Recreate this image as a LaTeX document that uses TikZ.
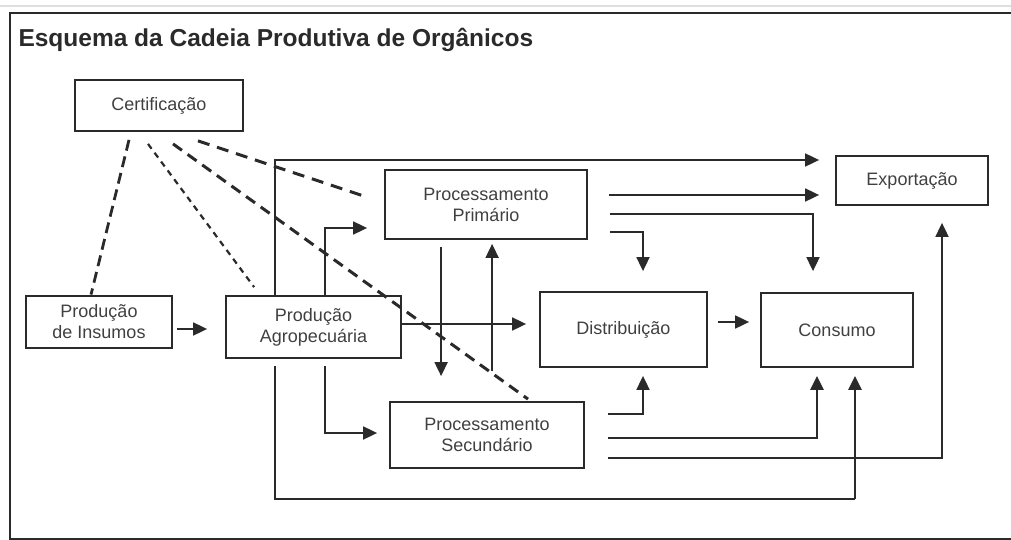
\documentclass[tikz,border=0pt]{standalone}
\usepackage{fontspec}
\setmainfont{Liberation Sans}
\usetikzlibrary{arrows.meta,calc}
\definecolor{ink}{HTML}{2A2A2A}
\definecolor{txt}{HTML}{404040}
\begin{document}
\begin{tikzpicture}[x=1pt,y=-1pt,
  box/.style={draw=ink,line width=1.8pt,rectangle,inner sep=0pt,align=center,text=txt,
    font=\fontsize{18}{21}\selectfont},
  conn/.style={draw=ink,line width=1.8pt},
  arr/.style={conn,-{Triangle[length=14pt,width=13pt]}},
  arrthick/.style={arr,line width=2.8pt},
  dashA/.style={draw=ink,line width=2.8pt,dash pattern=on 11pt off 6pt},
  dashB/.style={draw=ink,line width=2.2pt,dash pattern=on 6pt off 5pt},
  dashC/.style={draw=ink,line width=3pt,dash pattern=on 11pt off 7pt},
  dashD/.style={draw=ink,line width=3pt,dash pattern=on 12pt off 8pt}]
\useasboundingbox (0,0) rectangle (1011,540);
% frame
\draw[gray!25,line width=2pt] (0,6) -- (1011,6);
\draw[ink,line width=2.2pt] (1011,13) -- (10,13) -- (10,539) -- (1011,539);
\node[anchor=base west,text=ink,font=\fontsize{24.5}{28}\selectfont\bfseries] (title) at (15,47) {Esquema da Cadeia Produtiva de Orgânicos};
% nodes
\node[box,minimum width=168pt,minimum height=51pt] (cert) at (159,105.5) {Certificação};
\node[box,minimum width=202pt,minimum height=69pt] (prim) at (486,204.5) {Processamento\\Primário};
\node[box,minimum width=152pt,minimum height=49pt] (exp) at (912,180.5) {Exportação};
\node[box,line width=2.8pt,minimum width=146pt,minimum height=52pt] (ins) at (99,322) {Produção\\de Insumos};
\node[box,minimum width=175pt,minimum height=62pt] (agro) at (313.5,327) {Produção\\Agropecuária};
\node[box,minimum width=194pt,minimum height=66pt] (sec) at (487,435) {Processamento\\Secundário};
\node[box,minimum width=167pt,minimum height=75pt] (dist) at (623.5,329.5) {Distribuição};
\node[box,minimum width=152pt,minimum height=74pt] (cons) at (837,330) {Consumo};
% dashed certification links
\draw[dashA] ($(cert.south)+(-30,8)$) -- ($(ins.north)+(-8,0)$);
\draw[dashB] ($(cert.south)+(-11,12)$) -- ($(agro.north west)+(29,-8)$);
\draw[dashC] ($(cert.south)+(14,12)$) -- ($(sec.north)+(41,-2)$);
\draw[dashD] ($(cert.south)+(39,9)$) -- ($(prim.west)+(-22,-9)$);
% connectors
\draw[arr] ($(ins.east)+(4,7)$) -- ($(agro.west)+(-18,2)$);
\draw[arr] ($(agro.north west)+(50,0)$) |- ($(exp.west)+(-16,-20.5)$);
\draw[conn] ($(agro.south west)+(50,7)$) |- ($(cons.south)+(18,131)$);
\draw[arrthick] ($(cons.south)+(18,131)$) -- ($(cons.south)+(18,8)$);
\draw[arr] ($(agro.north west)+(100,0)$) |- ($(prim.west)+(-17,23.5)$);
\draw[arr] ($(agro.south west)+(100,7)$) |- ($(sec.west)+(-12,-2)$);
\draw[arr] ($(agro.east)+(0,-3)$) -- ($(dist.west)+(-13,-5.5)$);
\draw[arr] ($(prim.south west)+(57,7)$) -- ($(sec.north west)+(52,-25)$);
\draw[arr] ($(sec.north west)+(103,-30)$) -- ($(prim.south west)+(108,4)$);
\draw[arr] ($(prim.east)+(21,-9.5)$) -- ($(exp.west)+(-16,14.5)$);
\draw[arr] ($(prim.east)+(22,9.5)$) -| ($(cons.north)+(-24,-21)$);
\draw[arr] ($(prim.east)+(22,27.5)$) -| ($(dist.north)+(19.5,-20)$);
\draw[arr] ($(dist.east)+(10,-7.5)$) -- ($(cons.west)+(-11,-8)$);
\draw[arr] ($(sec.east)+(23,-21)$) -| ($(dist.south)+(19.5,8)$);
\draw[arrthick] ($(sec.east)+(23,3)$) -| ($(cons.south)+(-20,8)$);
\draw[arr] ($(sec.east)+(23,23)$) -| ($(exp.south)+(30,17)$);
\end{tikzpicture}
\end{document}
